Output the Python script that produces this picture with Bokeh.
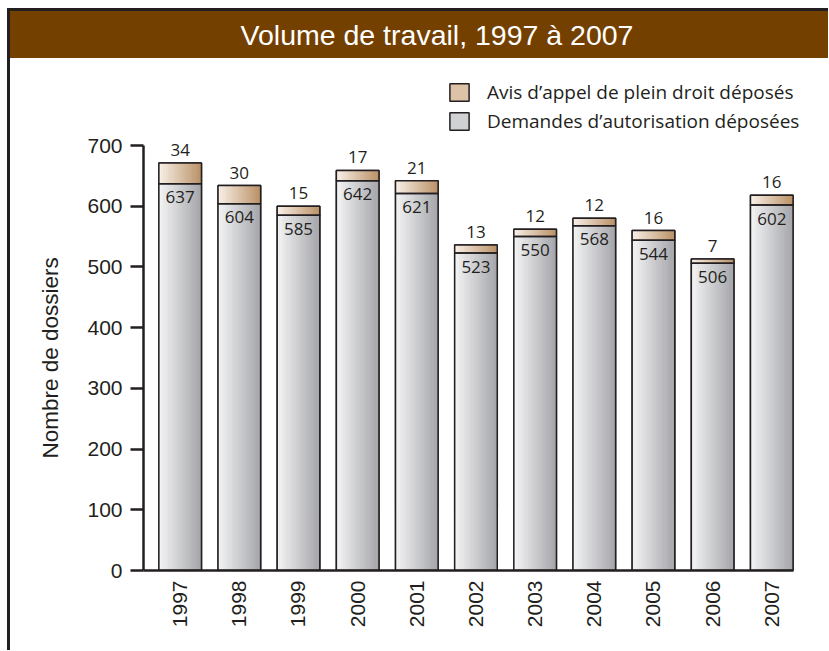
import numpy as np
from math import pi
from bokeh.plotting import figure
from bokeh.layouts import column
from bokeh.models import (Range1d, FixedTicker, Legend, LegendItem, Label, Title,
                          ColumnDataSource)
from bokeh.core.properties import value
from bokeh.embed import file_html
from bokeh.resources import INLINE

# ---------------- data ----------------
title_text = "Volume de travail, 1997 à 2007"
y_axis_title = "Nombre de dossiers"
years = [1997, 1998, 1999, 2000, 2001, 2002, 2003, 2004, 2005, 2006, 2007]
demandes = [637, 604, 585, 642, 621, 523, 550, 568, 544, 506, 602]
avis = [34, 30, 15, 17, 21, 13, 12, 12, 16, 7, 16]
y_ticks = [0, 100, 200, 300, 400, 500, 600, 700]
series_names = ["Avis d\u2019appel de plein droit déposés",
                "Demandes d\u2019autorisation déposées"]

# ---------------- style ----------------
INK = "#231f20"
BROWN = "#744000"
TICK_FONT = "Liberation Sans"
LABEL_FONT = "Open Sans"
BAR_W = 0.72
N_STRIPS = 18

def lerp_colors(c0, c1, n):
    a = np.array([int(c0[i:i + 2], 16) for i in (1, 3, 5)], float)
    b = np.array([int(c1[i:i + 2], 16) for i in (1, 3, 5)], float)
    out = []
    for t in np.linspace(0, 1, n):
        c = a + (b - a) * t
        out.append("#%02x%02x%02x" % tuple(int(round(v)) for v in c))
    return out

gray_cols = lerp_colors("#f3f3f4", "#a6a7ab", N_STRIPS)
tan_cols = lerp_colors("#f8efe6", "#bb9369", N_STRIPS)

FIG_W = 818
ML = 133          # left border of main figure
FRAME_W = 670
FRAME_L_PAGE = 143

# ---------------- banner ----------------
banner = figure(width=FIG_W, height=47,
                x_range=Range1d(FRAME_L_PAGE, FRAME_L_PAGE + FRAME_W), y_range=Range1d(0, 47),
                output_backend="svg", toolbar_location=None, min_border=0,
                x_axis_type=None, y_axis_type=None,
                styles={"background-color": BROWN})
banner.background_fill_color = BROWN
banner.border_fill_color = BROWN
banner.outline_line_color = None
banner.grid.visible = False
banner.add_layout(Label(x=436.5, y=23.5, text=title_text, text_align="center",
                        text_baseline="middle", text_color="white",
                        text_font=TICK_FONT, text_font_size="28.5px"))

# ---------------- main chart ----------------
PX = 425 / 700.0          # pixels per dossier
frame_h = 495
x0 = 1996.38
x_per_px = 1 / 59.16
MAIN_H = 592
p = figure(width=FIG_W, height=MAIN_H,
           x_range=Range1d(x0, x0 + FRAME_W * x_per_px),
           y_range=Range1d(0, frame_h / PX),
           output_backend="svg", toolbar_location=None,
           min_border_left=ML, min_border_right=FIG_W - ML - FRAME_W,
           min_border_top=17, min_border_bottom=MAIN_H - 17 - frame_h)
p.outline_line_color = None
p.grid.visible = False
p.background_fill_color = "white"
p.border_fill_color = "white"

tops_all = [d + a for d, a in zip(demandes, avis)]
bars = ColumnDataSource(dict(x=years, d=demandes, a=avis, t=tops_all, zero=[0] * len(years),
                             dl=[str(v) for v in demandes], al=[str(v) for v in avis]))

# base solid bars (also used as legend swatches)
r_dem = p.vbar(x="x", top="d", bottom="zero", width=BAR_W, fill_color="#d0d1d3",
               line_color=INK, line_width=1.5, source=bars)
r_avis = p.vbar(x="x", top="t", bottom="d", width=BAR_W, fill_color="#dcc2a6",
                line_color=INK, line_width=1.5, source=bars)

# gradient made of narrow strips
strip_w = BAR_W / N_STRIPS
xs, tops_g, bots_g, tops_t, bots_t, cg, ct = [], [], [], [], [], [], []
for i in range(N_STRIPS):
    off = -BAR_W / 2 + (i + 0.5) * strip_w
    for yr, d, a in zip(years, demandes, avis):
        xs.append(yr + off)
        tops_g.append(d); bots_g.append(0)
        tops_t.append(d + a); bots_t.append(d)
        cg.append(gray_cols[i]); ct.append(tan_cols[i])
strips = ColumnDataSource(dict(x=xs, tg=tops_g, bg=bots_g, tt=tops_t, bt=bots_t, cg=cg, ct=ct))
p.vbar(x="x", top="tg", bottom="bg", width=strip_w * 1.15, fill_color="cg", line_color=None, source=strips)
p.vbar(x="x", top="tt", bottom="bt", width=strip_w * 1.15, fill_color="ct", line_color=None, source=strips)

# outlines on top
p.vbar(x="x", top="d", bottom="zero", width=BAR_W, fill_alpha=0, line_color=INK, line_width=1.5, source=bars)
p.vbar(x="x", top="t", bottom="d", width=BAR_W, fill_alpha=0, line_color=INK, line_width=1.5, source=bars)

# value labels (positions offset in pixels converted to data units)
bars.data["yl"] = [v - 13.7 / PX for v in demandes]
bars.data["yu"] = [v + 13.0 / PX for v in tops_all]
p.text(x="x", y="yl", text="dl", source=bars, text_align="center", text_baseline="middle",
       text_font=value(LABEL_FONT), text_font_size="17px", text_color=INK)
p.text(x="x", y="yu", text="al", source=bars, text_align="center", text_baseline="middle",
       text_font=value(LABEL_FONT), text_font_size="17px", text_color=INK)

# legend
legend = Legend(items=[LegendItem(label=series_names[0], renderers=[r_avis], index=0),
                       LegendItem(label=series_names[1], renderers=[r_dem], index=0)],
                location=(304, 436), orientation="vertical",
                glyph_width=24, glyph_height=22, spacing=3, label_standoff=16,
                padding=0, margin=0, border_line_color=None, background_fill_alpha=0,
                label_text_font=LABEL_FONT, label_text_font_size="19px", label_text_color=INK)
p.add_layout(legend)

# axes
ya = p.yaxis[0]
ya.ticker = FixedTicker(ticks=y_ticks)
ya.bounds = (0, 700)
ya.axis_line_width = 2.5
ya.axis_line_color = INK
ya.major_tick_in = 0
ya.major_tick_out = 13
ya.major_tick_line_width = 2.5
ya.major_tick_line_color = INK
ya.minor_tick_line_color = None
ya.major_label_standoff = 8
ya.major_label_text_font = TICK_FONT
ya.major_label_text_font_size = "21px"
ya.major_label_text_color = INK

xa = p.xaxis[0]
xa.ticker = FixedTicker(ticks=years)
xa.major_label_overrides = {y: str(y) for y in years}
xa.bounds = (x0, years[-1] + BAR_W / 2 + 0.005)
xa.axis_line_width = 2.5
xa.axis_line_color = INK
xa.major_tick_in = 0
xa.major_tick_out = 0
xa.minor_tick_line_color = None
xa.major_label_orientation = pi / 2
xa.major_label_standoff = 10
xa.major_label_text_font = TICK_FONT
xa.major_label_text_font_size = "21px"
xa.major_label_text_color = INK

# vertical axis title, shifted to be centred on the 0-700 span
p.add_layout(Title(text=y_axis_title, align="left", offset=112, standoff=44,
                   text_font=TICK_FONT, text_font_size="22.5px", text_font_style="normal",
                   text_color=INK), "left")

page = column(banner, p, spacing=0,
              styles={"border-left": "3px solid #231f20", "border-top": "3px solid #231f20",
                      "margin-left": "7px", "margin-top": "8px"})

open("out.html", "w").write(file_html(page, INLINE))
